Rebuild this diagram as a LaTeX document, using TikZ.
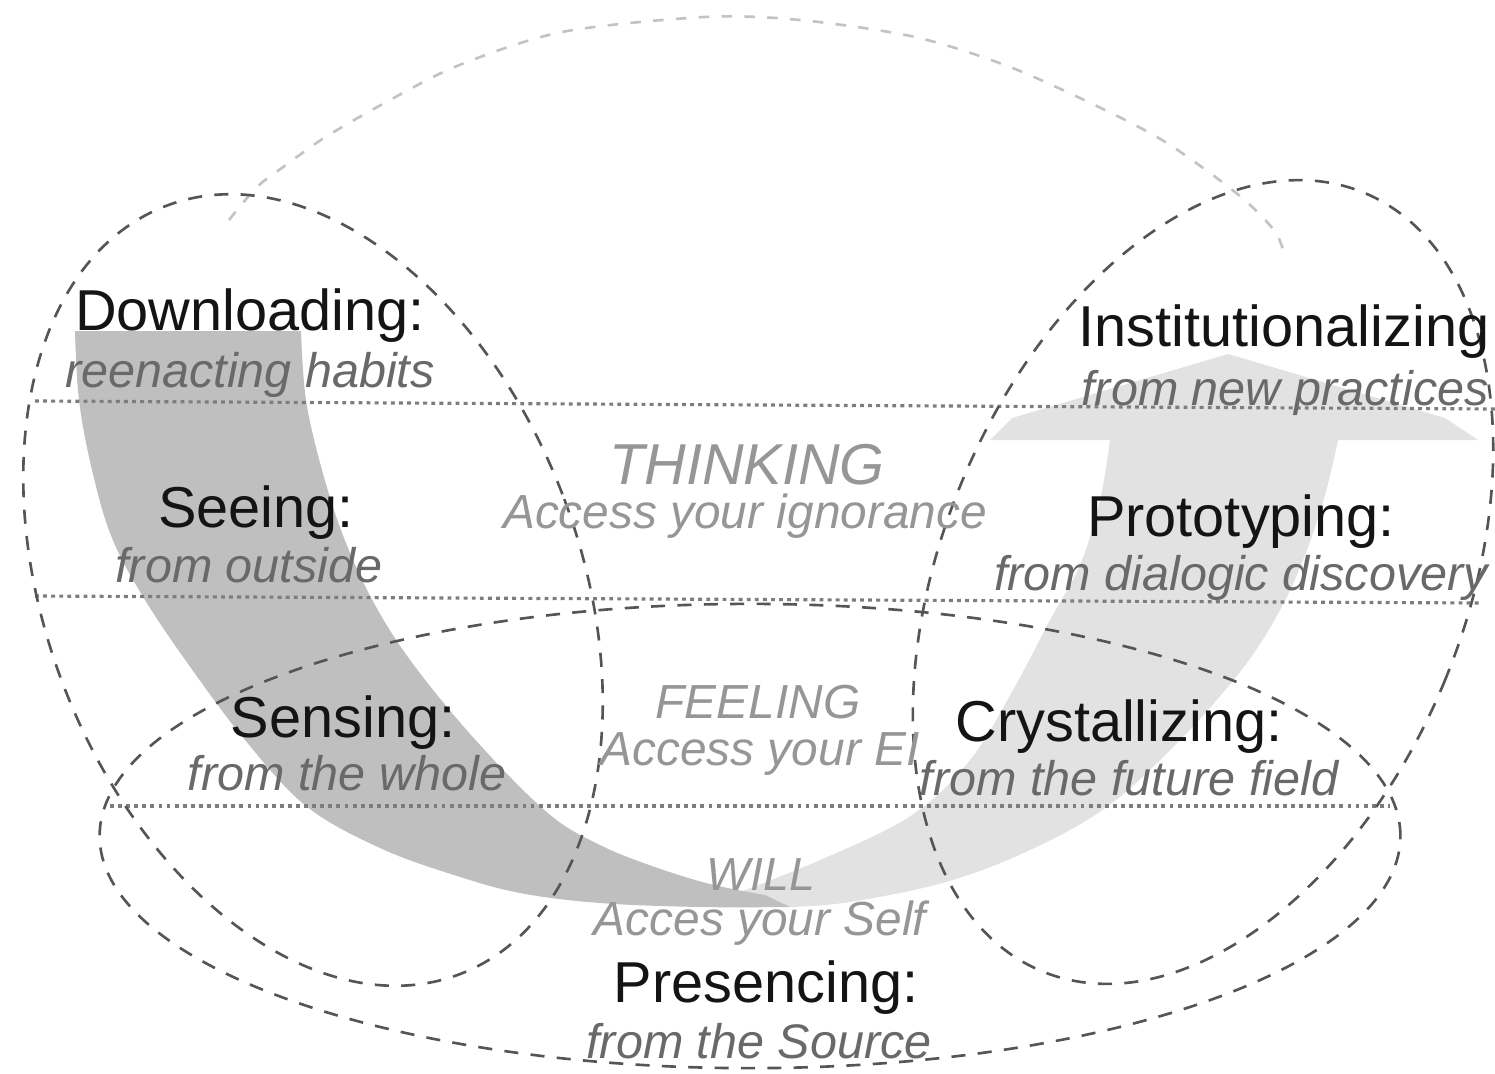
\documentclass[tikz,border=0pt]{standalone}
\usepackage{fontspec}
\setmainfont{Liberation Sans}

\definecolor{downgray}{RGB}{191,191,191}
\definecolor{upgray}{RGB}{226,226,226}
\definecolor{fieldgray}{RGB}{85,85,85}
\definecolor{faintgray}{RGB}{195,195,195}
\definecolor{levelgray}{RGB}{125,125,125}
\definecolor{subgray}{RGB}{105,105,105}
\definecolor{modegray}{RGB}{150,150,150}

\begin{document}
\begin{tikzpicture}[x = 0.01cm, y = -0.01cm,
    stage/.style = {anchor = base, inner sep = 0pt, text = black!92, font = \fontsize{16.4}{18}\selectfont},
    stagesub/.style = {anchor = base, inner sep = 0pt, text = subgray, font = \fontsize{13.8}{16}\selectfont\itshape},
    modetext/.style = {anchor = base, inner sep = 0pt, text = modegray, font = \fontsize{#1}{18}\selectfont\itshape},
    modetext/.default = 13.6,
    fieldline/.style = {draw = fieldgray, line width = 0.75pt, dash pattern = on 4pt off 3.5pt},
    levelline/.style = {draw = levelgray, line width = 0.9pt, dash pattern = on 1.1pt off 1.2pt}]
  \useasboundingbox (0,0) rectangle (1495,1073);

  \fill[upgray] (790,907)
    -- plot[smooth, tension = 0.6] coordinates {(790,907) (850,902) (946,882) (1030,850) (1108,806) (1180,740) (1243,668) (1280,610) (1305,555) (1325,495) (1338,440)}
    -- (1478,440) -- (1445,418) -- (1228,354) -- (1012,418) -- (990,440) -- (1110,440)
    -- plot[smooth, tension = 0.6] coordinates {(1110,440) (1100,500) (1080,565) (1050,620) (1013,690) (970,760) (912,815) (825,858) (740,892)}
    -- cycle;
  \fill[downgray] (75,331) -- (301,331)
    -- plot[smooth, tension = 0.6] coordinates {(301,331) (306,400) (322,470) (344,538) (375,605) (416,668) (480,745) (549,814) (600,845) (652,866) (710,884) (765,895)}
    -- (790,907)
    -- plot[smooth, tension = 0.6] coordinates {(790,907) (700,907) (600,903) (520,893) (454,875) (380,848) (306,806) (245,740) (191,668) (145,600) (112,538) (92,470) (79,400) (75,331)}
    -- cycle;

  \draw[draw = faintgray, line width = 0.75pt, dash pattern = on 3pt off 3.5pt]
    plot[smooth] coordinates {(229,220) (257,187) (286,165) (324,138) (381,105) (457,66) (562,32) (705,17) (800,20) (915,37) (1010,67) (1105,110) (1162,140) (1210,173) (1248,203) (1276,233) (1286,260)};

  \coordinate (l1) at (35,401);   \coordinate (r1) at (1495,409);
  \coordinate (l2) at (35,596);   \coordinate (r2) at (1480,603);
  \coordinate (l3) at (110,806);  \coordinate (r3) at (1390,806);
  \draw[levelline] (l1) -- (r1);
  \draw[levelline] (l2) -- (r2);
  \draw[levelline] (l3) -- (r3);

  \draw[fieldline, rotate around = {21:(313,590)}] (313,590) ellipse [x radius = 2.67cm, y radius = 4.11cm];
  \draw[fieldline, rotate around = {-22.5:(1203,582)}] (1203,582) ellipse [x radius = 2.61cm, y radius = 4.21cm];
  \draw[fieldline] (750,836) ellipse [x radius = 6.5cm, y radius = 2.32cm];

  \node[stage] (download) at (250,330) {Downloading:};
  \node[stagesub] (downloadsub) at (250,387) {reenacting habits};
  \node[stage] (seeing) at (256,527) {Seeing:};
  \node[stagesub] (seeingsub) at (249,582) {from outside};
  \node[stage] (sensing) at (343,737) {Sensing:};
  \node[stagesub] (sensingsub) at (347,790) {from the whole};
  \node[stage] (presencing) at (766,1002) {Presencing:};
  \node[stagesub] (presencingsub) at (759,1058) {from the Source};
  \node[stage] (crystal) at (1119,741) {Crystallizing:};
  \node[stagesub] (crystalsub) at (1129,795) {from the future field};
  \node[stage] (proto) at (1241,536) {Prototyping:};
  \node[stagesub] (protosub) at (1241,590) {from dialogic discovery};
  \node[stage] (institut) at (1284,346) {Institutionalizing};
  \node[stagesub] (institutsub) at (1285,405) {from new practices};

  \node[modetext = 16.4] (thinking) at (747,484) {THINKING};
  \node[modetext] (thinkingsub) at (745,528) {Access your ignorance};
  \node[modetext] (feeling) at (758,718) {FEELING};
  \node[modetext] (feelingsub) at (760,765) {Access your EI};
  \node[modetext = 13.2] (will) at (761,890) {WILL};
  \node[modetext] (willsub) at (760,935) {Acces your Self};
\end{tikzpicture}
\end{document}
